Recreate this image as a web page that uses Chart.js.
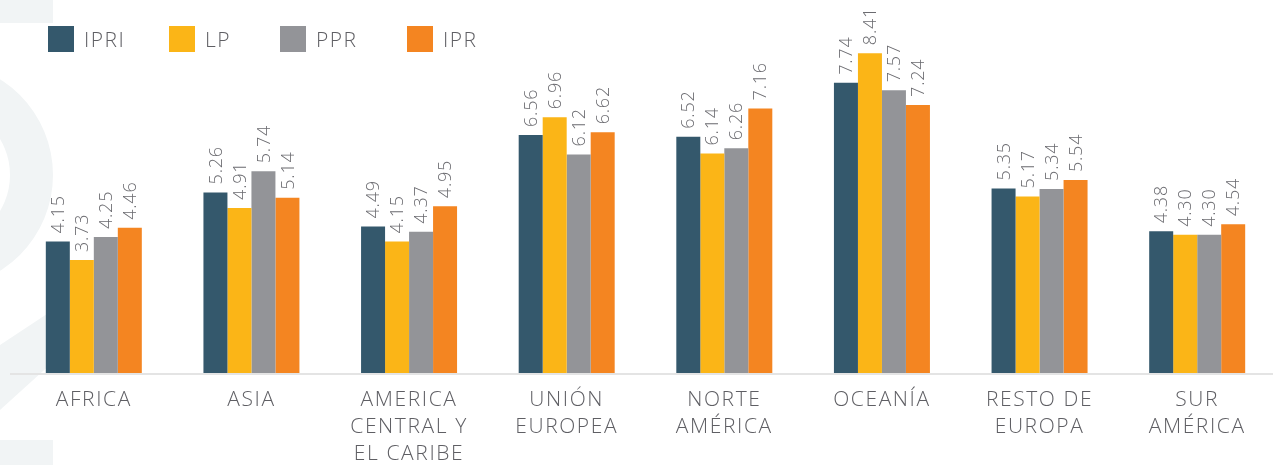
<!DOCTYPE html>
<html>
<head>
<meta charset="utf-8">
<script src="https://cdn.jsdelivr.net/npm/chart.js@4"></script>
<style>
  html, body { margin: 0; padding: 0; background: #fff; overflow: hidden; width: 1273px; height: 465px; }
  #wrap { position: relative; width: 1280px; height: 465px; }
  #legend { position: absolute; left: 0; top: 0; }
  .item { position: absolute; top: 26px; display: flex; align-items: center; height: 26px;
          font-family: "Open Sans", sans-serif; font-weight: 300; font-size: 21px; letter-spacing: 1.5px; color: #5f5f64; white-space: nowrap; }
  .box { width: 26px; height: 26px; margin-right: 10px; }
</style>
</head>
<body>
<div id="wrap">
  <canvas id="c" width="1280" height="465"></canvas>
  <div id="legend"></div>
</div>
<script>
const categories = [['AFRICA'], ['ASIA'], ['AMERICA', 'CENTRAL Y', 'EL CARIBE'], ['UNIÓN', 'EUROPEA'],
  ['NORTE', 'AMÉRICA'], ['OCEANÍA'], ['RESTO DE', 'EUROPA'], ['SUR', 'AMÉRICA']];
const seriesNames = ['IPRI', 'LP', 'PPR', 'IPR'];
const ipri = [4.15, 5.26, 4.49, 6.56, 6.52, 7.74, 5.35, 4.38];
const lp   = [3.73, 4.91, 4.15, 6.96, 6.14, 8.41, 5.17, 4.30];
const ppr  = [4.25, 5.74, 4.37, 6.12, 6.26, 7.57, 5.34, 4.30];
const ipr  = [4.46, 5.14, 4.95, 6.62, 7.16, 7.24, 5.54, 4.54];
const colors = ['#34586c', '#fbb517', '#939498', '#f48521'];
const legendLefts = [48, 169, 280, 407];

const FONT = '"Open Sans", sans-serif';

const spacing = {
  id: 'spacing',
  beforeDraw(chart) { chart.ctx.letterSpacing = '1.6px'; }
};

const watermark = {
  id: 'watermark',
  beforeDraw(chart) {
    const ctx = chart.ctx;
    ctx.save();
    ctx.fillStyle = '#f1f4f5';
    ctx.beginPath();
    ctx.rect(0, 0, 53, 23);
    ctx.fill();
    ctx.beginPath();
    ctx.rect(0, 440, 53, 25);
    ctx.fill();
    ctx.beginPath();
    ctx.moveTo(0, 345); ctx.lineTo(53, 310); ctx.lineTo(53, 362); ctx.lineTo(0, 410);
    ctx.closePath(); ctx.fill();
    ctx.beginPath();
    ctx.rect(0, 0, 53, 465);
    ctx.clip();
    ctx.beginPath();
    ctx.arc(-60, 175, 113, 0, Math.PI * 2);
    ctx.arc(-60, 175, 70, 0, Math.PI * 2, true);
    ctx.fill();
    ctx.restore();
  }
};

const baseline = {
  id: 'baseline',
  beforeDatasetsDraw(chart) {
    const ctx = chart.ctx;
    const y = chart.chartArea.bottom + 1;
    ctx.save();
    ctx.strokeStyle = '#e4e4e4';
    ctx.lineWidth = 2;
    ctx.beginPath();
    ctx.moveTo(10, y);
    ctx.lineTo(chart.width, y);
    ctx.stroke();
    ctx.restore();
  }
};

const valueLabels = {
  id: 'valueLabels',
  afterDatasetsDraw(chart) {
    const ctx = chart.ctx;
    ctx.save();
    ctx.letterSpacing = '0.8px';
    ctx.font = '300 18px ' + FONT;
    ctx.fillStyle = '#6b6b70';
    ctx.textAlign = 'left';
    ctx.textBaseline = 'middle';
    chart.data.datasets.forEach((ds, i) => {
      chart.getDatasetMeta(i).data.forEach((bar, j) => {
        ctx.save();
        ctx.translate(bar.x + 1, bar.y - 8);
        ctx.rotate(-Math.PI / 2);
        ctx.fillText(ds.data[j].toFixed(2), 0, 0);
        ctx.restore();
      });
    });
    ctx.restore();
  }
};

const values = [ipri, lp, ppr, ipr];
const chart = new Chart(document.getElementById('c'), {
  type: 'bar',
  data: {
    labels: categories,
    datasets: values.map((v, i) => ({
      label: seriesNames[i],
      data: v,
      backgroundColor: colors[i],
      borderWidth: 0,
      barPercentage: 1,
      categoryPercentage: 0.609
    }))
  },
  options: {
    responsive: false,
    animation: false,
    layout: { padding: { left: 15, right: 4, top: 5, bottom: 0 } },
    plugins: { legend: { display: false }, tooltip: { enabled: false } },
    scales: {
      x: {
        grid: { display: false, drawTicks: false },
        border: { display: false },
        ticks: { color: '#5f5f64', padding: 13, font: { family: FONT, size: 21, weight: 300, lineHeight: 1.29 }, maxRotation: 0, autoSkip: false },
        afterFit(scale) { scale.height = 92; }
      },
      y: { display: false, min: 1.175, max: 9.5 }
    }
  },
  plugins: [spacing, watermark, baseline, valueLabels]
});

const legendEl = document.getElementById('legend');
chart.data.datasets.forEach((ds, i) => {
  const item = document.createElement('div');
  item.className = 'item';
  item.style.left = legendLefts[i] + 'px';
  const box = document.createElement('span');
  box.className = 'box';
  box.style.background = ds.backgroundColor;
  const t = document.createElement('span');
  t.textContent = ds.label;
  item.appendChild(box);
  item.appendChild(t);
  legendEl.appendChild(item);
});
</script>
</body>
</html>
